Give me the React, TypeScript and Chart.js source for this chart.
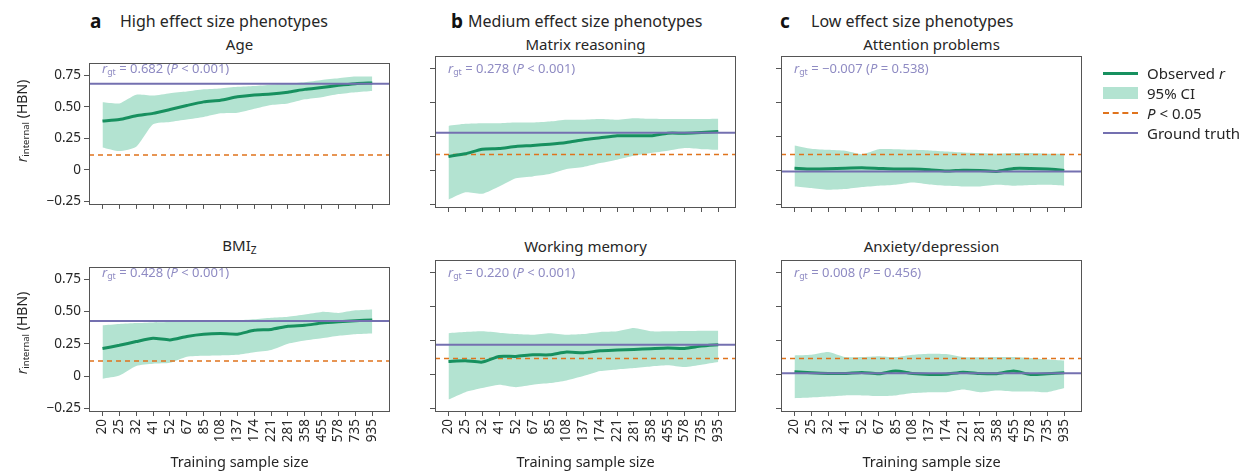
import React, { useEffect, useRef } from 'react';
import { Chart, registerables } from 'chart.js';
Chart.register(...registerables);

const FONT = '"Noto Sans", sans-serif';

const sampleSizes = ['20', '25', '32', '41', '52', '67', '85', '108', '137', '174', '221', '281', '358', '455', '578', '735', '935'];
const yTicks = [-0.25, 0, 0.25, 0.5, 0.75];
const pThreshold = 0.118;

const ageObs = [0.386, 0.398, 0.428, 0.447, 0.477, 0.509, 0.538, 0.551, 0.578, 0.593, 0.6, 0.615, 0.637, 0.652, 0.669, 0.682, 0.688];
const ageHigh = [0.534, 0.526, 0.595, 0.588, 0.607, 0.62, 0.637, 0.644, 0.657, 0.664, 0.674, 0.681, 0.693, 0.711, 0.725, 0.738, 0.738];
const ageLow = [0.177, 0.148, 0.182, 0.361, 0.379, 0.398, 0.418, 0.447, 0.452, 0.484, 0.514, 0.526, 0.558, 0.575, 0.6, 0.615, 0.625];

const bmiObs = [0.214, 0.239, 0.268, 0.293, 0.281, 0.308, 0.325, 0.33, 0.325, 0.355, 0.362, 0.387, 0.394, 0.411, 0.421, 0.429, 0.436];
const bmiHigh = [0.394, 0.404, 0.411, 0.416, 0.419, 0.424, 0.429, 0.431, 0.433, 0.441, 0.453, 0.461, 0.478, 0.498, 0.49, 0.51, 0.517];
const bmiLow = [-0.02, 0.005, 0.079, 0.096, 0.103, 0.15, 0.158, 0.16, 0.165, 0.185, 0.202, 0.251, 0.276, 0.293, 0.313, 0.325, 0.33];

const matObs = [0.103, 0.123, 0.157, 0.162, 0.177, 0.184, 0.194, 0.207, 0.226, 0.241, 0.256, 0.256, 0.256, 0.275, 0.275, 0.28, 0.288];
const matHigh = [0.329, 0.344, 0.349, 0.349, 0.354, 0.354, 0.361, 0.374, 0.374, 0.379, 0.374, 0.386, 0.381, 0.379, 0.379, 0.379, 0.381];
const matLow = [-0.216, -0.162, -0.172, -0.118, -0.057, -0.044, -0.027, 0.01, 0.025, 0.054, 0.079, 0.108, 0.128, 0.145, 0.165, 0.157, 0.152];

const wmObs = [0.096, 0.101, 0.091, 0.133, 0.133, 0.145, 0.145, 0.165, 0.16, 0.175, 0.18, 0.185, 0.19, 0.195, 0.192, 0.209, 0.219];
const wmHigh = [0.305, 0.313, 0.318, 0.308, 0.298, 0.293, 0.305, 0.293, 0.298, 0.313, 0.318, 0.342, 0.318, 0.318, 0.32, 0.323, 0.323];
const wmLow = [-0.185, -0.131, -0.101, -0.076, -0.094, -0.076, -0.064, -0.044, -0.012, 0.025, 0.037, 0.047, 0.059, 0.067, 0.054, 0.071, 0.091];

const attObs = [0.017, 0.01, 0.012, 0.017, 0.02, 0.015, 0.01, 0.01, 0.005, -0.005, 0.002, 0.0, -0.007, 0.015, 0.015, 0.01, 0.0];
const attHigh = [0.184, 0.16, 0.152, 0.145, 0.12, 0.157, 0.157, 0.152, 0.148, 0.14, 0.133, 0.128, 0.123, 0.128, 0.128, 0.123, 0.123];
const attLow = [-0.118, -0.13, -0.143, -0.138, -0.123, -0.113, -0.106, -0.089, -0.103, -0.113, -0.118, -0.118, -0.106, -0.113, -0.108, -0.106, -0.113];

const anxObs = [0.02, 0.012, 0.007, 0.007, 0.015, 0.005, 0.025, 0.007, 0.0, 0.002, 0.017, 0.007, 0.005, 0.025, 0.0, 0.005, 0.012];
const anxHigh = [0.14, 0.145, 0.165, 0.128, 0.128, 0.135, 0.128, 0.145, 0.153, 0.15, 0.128, 0.126, 0.128, 0.128, 0.121, 0.111, 0.103];
const anxLow = [-0.175, -0.17, -0.163, -0.155, -0.155, -0.16, -0.155, -0.138, -0.131, -0.131, -0.111, -0.131, -0.118, -0.126, -0.126, -0.131, -0.101];

const C_OBS = '#17905f';
const C_BAND = '#b3e3d1';
const C_P = '#e0731c';
const C_GT = '#7470b0';
const C_ANN = '#8f8bc3';
const C_AXIS = '#555';
const C_TEXT = '#262626';

const X_MIN = -0.8;
const X_MAX = 17.05;
const Y_MIN = -0.27;
const Y_MAX = 0.845;
const BOX_W = 301;
const BOX_H = 151;
const PAD_T = 4;
const PAD_R = 4;

const boxPlugin = {
  id: 'boxFrame',
  afterDraw(chart: any) {
    const { ctx, chartArea: a } = chart;
    ctx.save();
    ctx.strokeStyle = C_AXIS;
    ctx.lineWidth = 1;
    ctx.strokeRect(Math.round(a.left) + 0.5, Math.round(a.top) + 0.5, Math.round(a.right - a.left) - 1, Math.round(a.bottom - a.top));
    ctx.restore();
  },
};

function fmtY(v: number) {
  if (Math.abs(v) < 1e-9) return '0';
  if (v < 0) return '\u2212' + Math.abs(v).toFixed(2);
  return v.toFixed(2);
}

type PanelProps = {
  left: number;
  top: number;
  obs: number[];
  lo: number[];
  hi: number[];
  gt: number;
  yLabels: boolean;
  xLabels: boolean;
};

function Panel({ left, top, obs, lo, hi, gt, yLabels, xLabels }: PanelProps) {
  const ref = useRef<HTMLCanvasElement | null>(null);
  const yW = yLabels ? 60 : 8;
  const xH = xLabels ? 48 : 8;
  const cw = yW + BOX_W + PAD_R;
  const ch = PAD_T + BOX_H + xH;

  useEffect(() => {
    if (!ref.current) return;
    const idx = sampleSizes.map((_, i) => i);
    const chart = new Chart(ref.current, {
      type: 'line',
      data: {
        datasets: [
          {
            label: 'gt',
            data: [{ x: X_MIN, y: gt }, { x: X_MAX, y: gt }],
            borderColor: C_GT,
            borderWidth: 2,
            pointRadius: 0,
            order: 0,
          },
          {
            label: 'obs',
            data: obs.map((v, i) => ({ x: i, y: v })),
            borderColor: C_OBS,
            borderWidth: 3,
            pointRadius: 0,
            tension: 0.2,
            order: 1,
          },
          {
            label: 'p',
            data: [{ x: X_MIN, y: pThreshold }, { x: X_MAX, y: pThreshold }],
            borderColor: C_P,
            borderWidth: 1.5,
            borderDash: [5, 4],
            pointRadius: 0,
            order: 2,
          },
          {
            label: 'hi',
            data: hi.map((v, i) => ({ x: i, y: v })),
            borderWidth: 0,
            borderColor: 'rgba(0,0,0,0)',
            backgroundColor: C_BAND,
            pointRadius: 0,
            tension: 0.2,
            fill: '+1',
            order: 3,
          },
          {
            label: 'lo',
            data: lo.map((v, i) => ({ x: i, y: v })),
            borderWidth: 0,
            borderColor: 'rgba(0,0,0,0)',
            pointRadius: 0,
            tension: 0.2,
            fill: false,
            order: 4,
          },
        ],
      },
      options: {
        animation: false,
        responsive: false,
        maintainAspectRatio: false,
        layout: { padding: { top: PAD_T, right: PAD_R, left: 0, bottom: 0 } },
        plugins: { legend: { display: false }, tooltip: { enabled: false }, title: { display: false } },
        scales: {
          x: {
            type: 'linear',
            min: X_MIN,
            max: X_MAX,
            afterBuildTicks: (s: any) => {
              s.ticks = idx.map((v) => ({ value: v }));
            },
            afterFit: (s: any) => {
              s.height = xH;
            },
            border: { display: false },
            grid: { drawOnChartArea: false, drawTicks: true, tickLength: 5, color: C_AXIS, lineWidth: 1 },
            ticks: {
              display: xLabels,
              autoSkip: false,
              minRotation: 90,
              maxRotation: 90,
              padding: 3,
              color: C_TEXT,
              font: { family: FONT, size: 13.5 },
              callback: (v: any) => sampleSizes[Math.round(Number(v))] ?? '',
            },
          },
          y: {
            type: 'linear',
            min: Y_MIN,
            max: Y_MAX,
            afterBuildTicks: (s: any) => {
              s.ticks = yTicks.map((v) => ({ value: v }));
            },
            afterFit: (s: any) => {
              s.width = yW;
            },
            border: { display: false },
            grid: { drawOnChartArea: false, drawTicks: true, tickLength: 5, color: C_AXIS, lineWidth: 1 },
            ticks: {
              display: yLabels,
              padding: 3,
              color: C_TEXT,
              font: { family: FONT, size: 13.5 },
              callback: (v: any) => fmtY(Number(v)),
            },
          },
        },
      },
      plugins: [boxPlugin],
    } as any);
    return () => chart.destroy();
  }, []);

  return (
    <div style={{ position: 'absolute', left: left - yW, top: top - PAD_T, width: cw, height: ch }}>
      <canvas ref={ref} width={cw} height={ch} style={{ width: cw, height: ch, display: 'block' }} />
    </div>
  );
}

const Sub = ({ children }: { children: React.ReactNode }) => (
  <span style={{ fontSize: '0.68em', verticalAlign: '-0.28em' }}>{children}</span>
);

function Ann({ left, top, value, p }: { left: number; top: number; value: string; p: string }) {
  return (
    <div style={{ position: 'absolute', left: left + 13, top: top + 11.5 - 9, height: 18, lineHeight: '18px', fontSize: 13, color: C_ANN, whiteSpace: 'nowrap' }}>
      <i>r</i>
      <Sub>gt</Sub> = {value} (<i>P</i> {p})
    </div>
  );
}

function CenterText({ x, y, size, children, weight }: { x: number; y: number; size: number; children: React.ReactNode; weight?: number }) {
  return (
    <div style={{ position: 'absolute', left: x, top: y - 12, height: 24, lineHeight: '24px', fontSize: size, fontWeight: weight ?? 400, color: C_TEXT, whiteSpace: 'nowrap', transform: 'translateX(-50%)' }}>
      {children}
    </div>
  );
}

function Header({ letterX, textX, letter, text }: { letterX: number; textX: number; letter: string; text: string }) {
  return (
    <>
      <div style={{ position: 'absolute', left: letterX, top: 9, height: 24, lineHeight: '24px', fontSize: 19, fontWeight: 700, color: '#111' }}>{letter}</div>
      <div style={{ position: 'absolute', left: textX, top: 9, height: 24, lineHeight: '24px', fontSize: 16, color: C_TEXT, whiteSpace: 'nowrap' }}>{text}</div>
    </>
  );
}

function YTitle({ x, y }: { x: number; y: number }) {
  return (
    <div style={{ position: 'absolute', left: x, top: y, fontSize: 14, color: C_TEXT, whiteSpace: 'nowrap', lineHeight: '18px', transform: 'translate(-50%, -50%) rotate(-90deg)' }}>
      <i>r</i>
      <Sub>internal</Sub> (HBN)
    </div>
  );
}

function LegendRow({ y, swatch, label }: { y: number; swatch: React.ReactNode; label: React.ReactNode }) {
  return (
    <>
      <div style={{ position: 'absolute', left: 1103, top: y - 7, width: 35, height: 14 }}>{swatch}</div>
      <div style={{ position: 'absolute', left: 1147, top: y - 10, height: 20, lineHeight: '20px', fontSize: 15, color: C_TEXT, whiteSpace: 'nowrap' }}>{label}</div>
    </>
  );
}

const COLS = [89, 435, 781];
const ROWS = [56, 260];

export default function App() {
  const cx = (l: number) => l + BOX_W / 2;
  return (
    <div style={{ position: 'absolute', left: 0, top: 0, width: 1250, height: 472, background: '#fff', fontFamily: FONT, overflow: 'hidden' }}>
      <Header letterX={90} textX={120} letter="a" text="High effect size phenotypes" />
      <Header letterX={451} textX={468} letter="b" text="Medium effect size phenotypes" />
      <Header letterX={780} textX={811} letter="c" text="Low effect size phenotypes" />

      <CenterText x={cx(COLS[0])} y={44} size={15}>Age</CenterText>
      <CenterText x={cx(COLS[1])} y={44} size={15}>Matrix reasoning</CenterText>
      <CenterText x={cx(COLS[2])} y={44} size={15}>Attention problems</CenterText>
      <CenterText x={cx(COLS[0])} y={245} size={15}>BMI<Sub>Z</Sub></CenterText>
      <CenterText x={cx(COLS[1])} y={246} size={15}>Working memory</CenterText>
      <CenterText x={cx(COLS[2])} y={246} size={15}>Anxiety/depression</CenterText>

      <Panel left={COLS[0]} top={ROWS[0]} obs={ageObs} lo={ageLow} hi={ageHigh} gt={0.682} yLabels xLabels={false} />
      <Panel left={COLS[1]} top={ROWS[0]} obs={matObs} lo={matLow} hi={matHigh} gt={0.278} yLabels={false} xLabels={false} />
      <Panel left={COLS[2]} top={ROWS[0]} obs={attObs} lo={attLow} hi={attHigh} gt={-0.007} yLabels={false} xLabels={false} />
      <Panel left={COLS[0]} top={ROWS[1]} obs={bmiObs} lo={bmiLow} hi={bmiHigh} gt={0.428} yLabels xLabels />
      <Panel left={COLS[1]} top={ROWS[1]} obs={wmObs} lo={wmLow} hi={wmHigh} gt={0.22} yLabels={false} xLabels />
      <Panel left={COLS[2]} top={ROWS[1]} obs={anxObs} lo={anxLow} hi={anxHigh} gt={0.008} yLabels={false} xLabels />

      <Ann left={COLS[0]} top={ROWS[0]} value="0.682" p="< 0.001" />
      <Ann left={COLS[1]} top={ROWS[0]} value="0.278" p="< 0.001" />
      <Ann left={COLS[2]} top={ROWS[0]} value={'\u22120.007'} p="= 0.538" />
      <Ann left={COLS[0]} top={ROWS[1]} value="0.428" p="< 0.001" />
      <Ann left={COLS[1]} top={ROWS[1]} value="0.220" p="< 0.001" />
      <Ann left={COLS[2]} top={ROWS[1]} value="0.008" p="= 0.456" />

      <YTitle x={24} y={121} />
      <YTitle x={24} y={333} />

      <CenterText x={cx(COLS[0])} y={461} size={14.5}>Training sample size</CenterText>
      <CenterText x={cx(COLS[1])} y={461} size={14.5}>Training sample size</CenterText>
      <CenterText x={cx(COLS[2])} y={461} size={14.5}>Training sample size</CenterText>

      <LegendRow y={73} swatch={<div style={{ marginTop: 5.5, height: 3, background: C_OBS }} />} label={<span>Observed <i>r</i></span>} />
      <LegendRow y={93} swatch={<div style={{ marginTop: 1, height: 12, background: C_BAND }} />} label="95% CI" />
      <LegendRow y={113} swatch={<div style={{ marginTop: 6, height: 0, borderTop: `2px dashed ${C_P}` }} />} label={<span><i>P</i> &lt; 0.05</span>} />
      <LegendRow y={133} swatch={<div style={{ marginTop: 6, height: 2, background: C_GT }} />} label="Ground truth" />
    </div>
  );
}
